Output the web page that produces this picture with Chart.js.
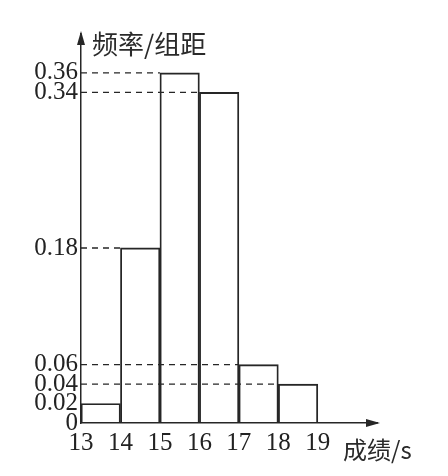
<!DOCTYPE html>
<html>
<head>
<meta charset="utf-8">
<script src="https://cdn.jsdelivr.net/npm/chart.js@4"></script>
<style>
html,body{margin:0;padding:0;background:#fff;}
#wrap{width:448px;height:476px;}
</style>
</head>
<body>
<div id="wrap"><canvas id="c" width="448" height="476"></canvas></div>
<script>
// Data
const binEdges = [13, 14, 15, 16, 17, 18, 19];
const freqPerWidth = [0.02, 0.18, 0.36, 0.34, 0.06, 0.04];
const yTickValues = [0, 0.02, 0.04, 0.06, 0.18, 0.34, 0.36];
const xTickValues = [13, 14, 15, 16, 17, 18, 19];
const yTitle = '频率/组距';
const xTitle = '成绩/s';

const ink = '#262626';
const serif = "'Liberation Serif','DejaVu Serif',serif";
const cjk = "'Noto Sans CJK SC','Noto Sans CJK JP',sans-serif";

const barData = freqPerWidth.map((v, i) => ({x: (binEdges[i] + binEdges[i + 1]) / 2, y: v}));

const dashSets = freqPerWidth.map((v, i) => i === 0 ? null : ({
  type: 'line',
  data: [{x: binEdges[0], y: v}, {x: binEdges[i], y: v}],
  borderColor: ink,
  borderWidth: 1.4,
  borderDash: [6, 5],
  pointRadius: 0,
  fill: false,
  order: 2
})).filter(Boolean);

const axisDecor = {
  id: 'axisDecor',
  afterDraw(chart) {
    const ctx = chart.ctx;
    const a = chart.chartArea;
    const x0 = chart.scales.x.left;
    const y0 = chart.scales.y.bottom;
    ctx.save();
    ctx.fillStyle = ink;
    // y arrow
    ctx.beginPath();
    ctx.moveTo(x0, a.top - 3);
    ctx.lineTo(x0 - 4, a.top + 11);
    ctx.lineTo(x0 + 4, a.top + 11);
    ctx.closePath();
    ctx.fill();
    // x arrow
    ctx.beginPath();
    ctx.moveTo(a.right + 3, y0);
    ctx.lineTo(a.right - 11, y0 - 4);
    ctx.lineTo(a.right - 11, y0 + 4);
    ctx.closePath();
    ctx.fill();
    // titles
    ctx.fillStyle = '#2a2a2a';
    ctx.textBaseline = 'middle';
    ctx.textAlign = 'left';
    ctx.font = "26px " + cjk;
    ctx.fillText(yTitle, x0 + 11, a.top + 10);
    ctx.font = "24px " + cjk;
    ctx.fillText(xTitle, a.right - 34, y0 + 27);
    ctx.restore();
  }
};

new Chart(document.getElementById('c'), {
  type: 'bar',
  data: {
    datasets: [{
      type: 'bar',
      data: barData,
      backgroundColor: 'rgba(255,255,255,0)',
      borderColor: ink,
      borderWidth: 1.2,
      barPercentage: 1,
      categoryPercentage: 1,
      order: 1
    }, ...dashSets]
  },
  options: {
    responsive: false,
    animation: false,
    layout: {padding: {top: 34, right: 71, left: 0, bottom: 0}},
    plugins: {legend: {display: false}, tooltip: {enabled: false}},
    scales: {
      x: {
        type: 'linear',
        offset: false,
        min: 13,
        max: 20.5,
        afterBuildTicks: s => { s.ticks = xTickValues.map(v => ({value: v})); },
        afterFit: s => { s.height = 53; },
        grid: {display: false, drawTicks: false, offset: false},
        border: {display: true, color: ink, width: 1.5},
        ticks: {
          autoSkip: false,
          maxRotation: 0,
          padding: 5,
          color: '#222',
          font: {family: serif, size: 25},
          callback: v => String(v)
        }
      },
      y: {
        type: 'linear',
        min: 0,
        max: 0.40,
        afterBuildTicks: s => { s.ticks = yTickValues.map(v => ({value: v})); },
        afterFit: s => { s.width = 81; },
        grid: {display: false, drawTicks: false},
        border: {display: true, color: ink, width: 1.5},
        ticks: {
          autoSkip: false,
          padding: 3,
          color: '#222',
          font: {family: serif, size: 25},
          callback: v => v === 0 ? '0' : Number(v).toFixed(2)
        }
      }
    }
  },
  plugins: [axisDecor]
});
</script>
</body>
</html>
